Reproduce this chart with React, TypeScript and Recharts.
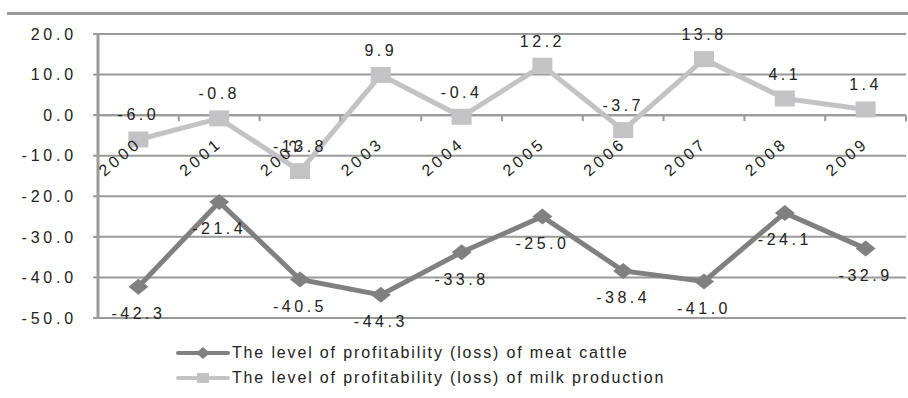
import { LineChart, Line, XAxis, YAxis, CartesianGrid, ReferenceLine, ReferenceDot, LabelList } from 'recharts'

const years = ['2000', '2001', '2002', '2003', '2004', '2005', '2006', '2007', '2008', '2009']
const meatCattle = [-42.3, -21.4, -40.5, -44.3, -33.8, -25.0, -38.4, -41.0, -24.1, -32.9]
const milkProduction = [-6.0, -0.8, -13.8, 9.9, -0.4, 12.2, -3.7, 13.8, 4.1, 1.4]
const yTicks = [20, 10, 0, -10, -20, -30, -40, -50]

const MEAT_NAME = 'The level of profitability (loss) of meat cattle'
const MILK_NAME = 'The level of profitability (loss) of milk production'

const MEAT_COLOR = '#808080'
const MILK_COLOR = '#c3c3c6'
const GRID = '#9a9a9a'
const TEXT = '#222'
const FONT = '"Liberation Sans", Arial, sans-serif'

const W = 908
const H = 398
const MARGIN = { top: 34, right: 2, bottom: 80, left: 0 }
const Y_WIDTH = 98
const HALF_BAND = (W - Y_WIDTH - MARGIN.right) / years.length / 2

const data = years.map((year, i) => ({ year, meat: meatCattle[i], milk: milkProduction[i] }))

const Diamond = ({ cx, cy, fill }: { cx?: number; cy?: number; fill: string }) => {
  if (cx == null || cy == null) return null
  return <path d={`M${cx},${cy - 8} L${cx + 10},${cy} L${cx},${cy + 8} L${cx - 10},${cy} Z`} fill={fill} />
}

const Square = ({ cx, cy, fill }: { cx?: number; cy?: number; fill: string }) => {
  if (cx == null || cy == null) return null
  return <rect x={cx - 10} y={cy - 8} width={20} height={16} fill={fill} />
}

// category label under the zero line, plus the tick mark at the band's right edge
const YearTick = ({ cx, cy, label }: { cx?: number; cy?: number; label: string }) => {
  if (cx == null || cy == null) return null
  const ax = cx + 4
  const ay = cy + 30
  return (
    <g>
      <line x1={cx + HALF_BAND} y1={cy} x2={cx + HALF_BAND} y2={cy + 6} stroke={GRID} strokeWidth={2} />
      <text
        x={ax}
        y={ay}
        transform={`rotate(-40, ${ax}, ${ay})`}
        textAnchor="end"
        fontSize={16}
        fontFamily={FONT}
        fill={TEXT}
        letterSpacing={3.5}
      >
        {label}
      </text>
    </g>
  )
}

const legendItems = [
  { name: MEAT_NAME, color: MEAT_COLOR, marker: 'diamond' },
  { name: MILK_NAME, color: MILK_COLOR, marker: 'square' },
]

const ChartLegend = () => (
  <div
    style={{
      position: 'absolute',
      left: 176,
      top: 340,
      fontFamily: FONT,
      fontSize: 16,
      color: TEXT,
      letterSpacing: 1.85,
    }}
  >
    {legendItems.map((s) => (
      <div key={s.name} style={{ display: 'flex', alignItems: 'center', height: 25 }}>
        <svg width={54} height={20} style={{ marginRight: 2 }}>
          <line x1={2} y1={10} x2={52} y2={10} stroke={s.color} strokeWidth={4} strokeLinecap="round" />
          {s.marker === 'diamond' ? (
            <path d="M27,4 L34,10 L27,16 L20,10 Z" fill={s.color} />
          ) : (
            <rect x={21} y={5} width={12} height={10} fill={s.color} />
          )}
        </svg>
        <span style={{ whiteSpace: 'nowrap' }}>{s.name}</span>
      </div>
    ))}
  </div>
)

const labelStyle = { fontSize: 16, fontFamily: FONT, fill: TEXT, letterSpacing: 3.5 }

export default function App() {
  return (
    <div style={{ position: 'absolute', left: 0, top: 0, width: W, height: H, background: '#fff' }}>
      <div style={{ position: 'absolute', left: 7, top: 12, width: W - 7, height: 3, background: GRID }} />
      <LineChart width={W} height={H} data={data} margin={MARGIN}>
        <CartesianGrid vertical={false} stroke={GRID} strokeWidth={2} />
        <XAxis dataKey="year" hide padding={{ left: HALF_BAND, right: HALF_BAND }} />
        <YAxis
          domain={[-50, 20]}
          ticks={yTicks}
          interval={0}
          width={Y_WIDTH}
          axisLine={{ stroke: GRID, strokeWidth: 3 }}
          tickLine={{ stroke: GRID, strokeWidth: 2 }}
          tickSize={5}
          tickMargin={16}
          tickFormatter={(v: number) => v.toFixed(1)}
          tick={{ fontSize: 16, fontFamily: FONT, fill: TEXT, letterSpacing: 3.8 }}
        />
        <ReferenceLine y={0} stroke={GRID} strokeWidth={2} />
        <Line
          type="linear"
          dataKey="meat"
          name={MEAT_NAME}
          stroke={MEAT_COLOR}
          strokeWidth={5}
          dot={(p: any) => <Diamond key={`m${p.index}`} cx={p.cx} cy={p.cy} fill={MEAT_COLOR} />}
          isAnimationActive={false}
        >
          <LabelList
            dataKey="meat"
            position="bottom"
            offset={21}
            formatter={(v: any) => Number(v).toFixed(1)}
            style={labelStyle}
          />
        </Line>
        <Line
          type="linear"
          dataKey="milk"
          name={MILK_NAME}
          stroke={MILK_COLOR}
          strokeWidth={5}
          dot={(p: any) => <Square key={`k${p.index}`} cx={p.cx} cy={p.cy} fill={MILK_COLOR} />}
          isAnimationActive={false}
        >
          <LabelList
            dataKey="milk"
            position="top"
            offset={19}
            formatter={(v: any) => Number(v).toFixed(1)}
            style={labelStyle}
          />
        </Line>
        {years.map((y) => (
          <ReferenceDot
            key={y}
            x={y}
            y={0}
            ifOverflow="visible"
            shape={(p: any) => <YearTick cx={p.cx} cy={p.cy} label={y} />}
          />
        ))}
      </LineChart>
      <ChartLegend />
    </div>
  )
}
